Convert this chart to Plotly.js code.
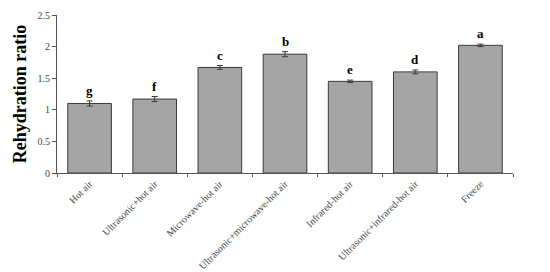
<!DOCTYPE html>
<html>
<head>
<meta charset="utf-8">
<script src="https://cdn.plot.ly/plotly-3.0.1.min.js"></script>
<style>
  html, body { margin: 0; padding: 0; background: #ffffff; }
  #chart { width: 550px; height: 272px; }
</style>
</head>
<body>
<div id="chart"></div>
<script>
// 건조 방법별 재수화율
const methods = ['Hot air', 'Ultrasonic+hot air', 'Microwave-hot air', 'Ultrasonic+microwave-hot air',
                 'Infrared-hot air', 'Ultrasonic+infrared-hot air', 'Freeze'];
const ratios = [1.10, 1.17, 1.67, 1.88, 1.45, 1.60, 2.02];
const errors = [0.04, 0.04, 0.03, 0.04, 0.02, 0.03, 0.02];
const letters = ['g', 'f', 'c', 'b', 'e', 'd', 'a'];

const serif = 'Liberation Serif, Times New Roman, serif';

const barTrace = {
    x: methods,
    y: ratios,
    type: 'bar',
    marker: {
        color: '#a5a5a5',
        line: { color: '#3a3a3a', width: 1 }
    },
    error_y: {
        type: 'data',
        array: errors,
        visible: true,
        color: '#3a3a3a',
        thickness: 1,
        width: 3
    },
    hoverinfo: 'none'
};

// 유의성 문자 (오차막대 위)
const letterNotes = methods.map((m, i) => ({
    x: m,
    y: ratios[i] + errors[i],
    text: letters[i],
    showarrow: false,
    yanchor: 'bottom',
    yshift: 1,
    font: { family: serif, size: 13, color: '#000000', weight: 'bold' }
}));

const layout = {
    width: 550,
    height: 272,
    margin: { l: 57, r: 37, t: 15, b: 99 },
    paper_bgcolor: '#ffffff',
    plot_bgcolor: '#ffffff',
    showlegend: false,
    bargap: 0.33,
    font: { family: serif, color: '#333333' },
    xaxis: {
        type: 'category',
        showline: true,
        linecolor: '#555555',
        linewidth: 1,
        ticks: 'outside',
        tickson: 'boundaries',
        ticklen: 3,
        tickcolor: '#555555',
        tickangle: -45,
        tickfont: { family: serif, size: 10, color: '#444444' },
        showgrid: false,
        zeroline: false
    },
    yaxis: {
        range: [0, 2.5],
        dtick: 0.5,
        showline: true,
        linecolor: '#555555',
        linewidth: 1,
        ticks: 'outside',
        ticklen: 4,
        tickcolor: '#555555',
        tickfont: { family: serif, size: 10, color: '#444444' },
        showgrid: false,
        zeroline: false,
        title: {
            text: 'Rehydration ratio',
            font: { family: serif, size: 18, color: '#000000', weight: 'bold' },
            standoff: 6
        }
    },
    annotations: letterNotes
};

Plotly.newPlot('chart', [barTrace], layout, { displayModeBar: false, staticPlot: true });
</script>
</body>
</html>
